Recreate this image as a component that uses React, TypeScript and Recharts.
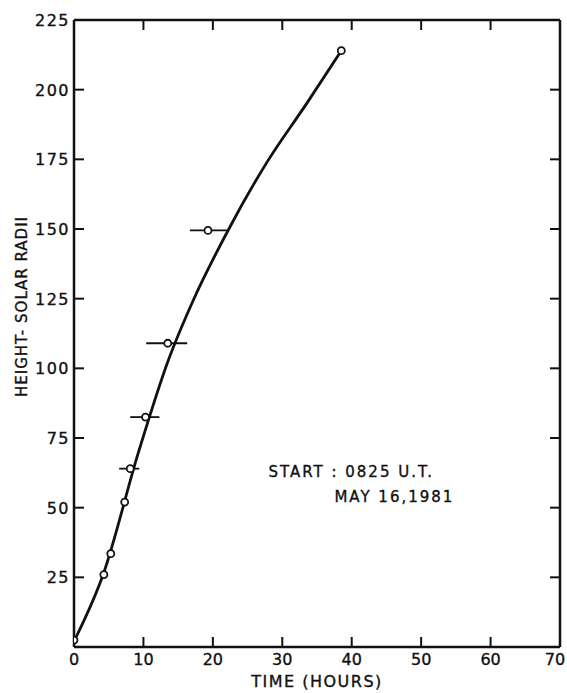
import React from "react";
import {
  ComposedChart,
  Line,
  Scatter,
  ErrorBar,
  XAxis,
  YAxis,
  ReferenceDot,
} from "recharts";

// observed heights (solar radii) vs time after start (hours), with x error bars
const points = [
  { x: 0, y: 2.5, err: [0, 0] },
  { x: 4.3, y: 26, err: [0, 0] },
  { x: 5.3, y: 33.5, err: [0, 0] },
  { x: 7.3, y: 52, err: [0.5, 0.5] },
  { x: 8.1, y: 64, err: [1.6, 1.3] },
  { x: 10.3, y: 82.5, err: [2.2, 2.0] },
  { x: 13.5, y: 109, err: [3.1, 2.8] },
  { x: 19.3, y: 149.5, err: [2.6, 2.9] },
  { x: 38.5, y: 214, err: [0, 0] },
];

// hand drawn fit curve
const curveX = [0, 4.2, 9.3, 13.6, 17.1, 22.3, 27.8, 33.5, 38.5];
const curveY = [2, 26, 70, 103, 124, 150, 174, 195, 214];
const curve = curveX.map((x, i) => ({ x, y: curveY[i] }));

const xTicks = [0, 10, 20, 30, 40, 50, 60, 70];
const yTicks = [25, 50, 75, 100, 125, 150, 175, 200, 225];

const font = "DejaVu Sans";
const ink = "#111";
const txt = { fontFamily: font, fill: ink, stroke: ink, strokeWidth: 0.35 };

const BottomTick = (props: any) => {
  const { x, y, payload } = props;
  const v = payload.value;
  return (
    <g>
      {v > 0 && v < 70 && (
        <line x1={x} y1={y} x2={x} y2={y - 10} stroke={ink} strokeWidth={2} />
      )}
      <text x={v === 70 ? x - 4 : x} y={y + 18} textAnchor="middle" fontSize={16} {...txt}>
        {v}
      </text>
    </g>
  );
};

const TopTick = (props: any) => {
  const { x, y, payload } = props;
  const v = payload.value;
  if (v <= 0 || v >= 70) return <g />;
  return <line x1={x} y1={y} x2={x} y2={y + 10} stroke={ink} strokeWidth={2} />;
};

const LeftTick = (props: any) => {
  const { x, y, payload } = props;
  const v = payload.value;
  return (
    <g>
      {v < 225 && <line x1={x} y1={y} x2={x + 10} y2={y} stroke={ink} strokeWidth={2} />}
      <text x={x - 4} y={y} dy={6} textAnchor="end" fontSize={16} letterSpacing={1.5} {...txt}>
        {v}
      </text>
    </g>
  );
};

const RightTick = (props: any) => {
  const { x, y, payload } = props;
  if (payload.value >= 225) return <g />;
  return <line x1={x} y1={y} x2={x - 10} y2={y} stroke={ink} strokeWidth={2} />;
};

const YLabel = (props: any) => {
  const { viewBox } = props;
  const cx = viewBox.x + 22;
  const cy = viewBox.y + viewBox.height / 2 - 27;
  return (
    <text
      x={cx}
      y={cy}
      transform={`rotate(-90 ${cx} ${cy})`}
      textAnchor="middle"
      dominantBaseline="central"
      fontSize={15}
      letterSpacing={1}
      {...txt}
    >
      HEIGHT- SOLAR RADII
    </text>
  );
};

const Dot = (props: any) => {
  const { cx, cy } = props;
  return <circle cx={cx} cy={cy} r={3.5} fill="#fff" stroke={ink} strokeWidth={1.8} />;
};

const Note = (props: any) => {
  const { cx, cy } = props;
  return (
    <g fontSize={15} letterSpacing={2} {...txt}>
      <text x={cx}>
        <tspan x={cx} y={cy}>START : 0825 U.T.</tspan>
        <tspan x={cx + 66} y={cy + 25}>MAY 16,1981</tspan>
      </text>
    </g>
  );
};

const App = () => {
  return (
    <div style={{ position: "absolute", left: 0, top: 0, width: 567, height: 693, background: "#fff" }}>
      <ComposedChart width={567} height={693} margin={{ top: 0, right: 0, bottom: 0, left: 0 }}>
        <XAxis
          xAxisId="b"
          dataKey="x"
          type="number"
          domain={[0, 70]}
          ticks={xTicks}
          allowDataOverflow
          height={46}
          tickSize={0}
          tickMargin={0}
          tickLine={false}
          axisLine={{ stroke: ink, strokeWidth: 2.5 }}
          tick={<BottomTick />}
          label={{
            value: "TIME (HOURS)",
            position: "insideBottom",
            offset: 6,
            fontFamily: font,
            fontSize: 16,
            fill: ink,
            stroke: ink,
            strokeWidth: 0.35,
            letterSpacing: 1.5,
          }}
        />
        <XAxis
          xAxisId="t"
          dataKey="x"
          orientation="top"
          type="number"
          domain={[0, 70]}
          ticks={xTicks}
          allowDataOverflow
          height={20}
          tickSize={0}
          tickMargin={0}
          tickLine={false}
          axisLine={{ stroke: ink, strokeWidth: 2.5 }}
          tick={<TopTick />}
        />
        <YAxis
          yAxisId="l"
          dataKey="y"
          type="number"
          domain={[0, 225]}
          ticks={yTicks}
          allowDataOverflow
          width={74}
          tickSize={0}
          tickMargin={0}
          tickLine={false}
          axisLine={{ stroke: ink, strokeWidth: 2.5 }}
          tick={<LeftTick />}
          label={{ content: (p: any) => <YLabel {...p} /> }}
        />
        <YAxis
          yAxisId="r"
          dataKey="y"
          orientation="right"
          type="number"
          domain={[0, 225]}
          ticks={yTicks}
          allowDataOverflow
          width={7}
          tickSize={0}
          tickMargin={0}
          tickLine={false}
          axisLine={{ stroke: ink, strokeWidth: 2.5 }}
          tick={<RightTick />}
        />
        <Line
          xAxisId="t"
          yAxisId="r"
          data={curve}
          dataKey="y"
          stroke="none"
          dot={false}
          legendType="none"
          isAnimationActive={false}
        />
        <Line
          xAxisId="b"
          yAxisId="l"
          data={curve}
          dataKey="y"
          type="monotone"
          stroke={ink}
          strokeWidth={2.8}
          dot={false}
          isAnimationActive={false}
        />
        <Scatter
          xAxisId="b"
          yAxisId="l"
          data={points}
          dataKey="y"
          shape={<Dot />}
          isAnimationActive={false}
        >
          <ErrorBar dataKey="err" direction="x" width={0} stroke={ink} strokeWidth={1.8} />
        </Scatter>
        <ReferenceDot xAxisId="b" yAxisId="l" x={28} y={61} r={0} shape={<Note />} />
      </ComposedChart>
    </div>
  );
};

export default App;
